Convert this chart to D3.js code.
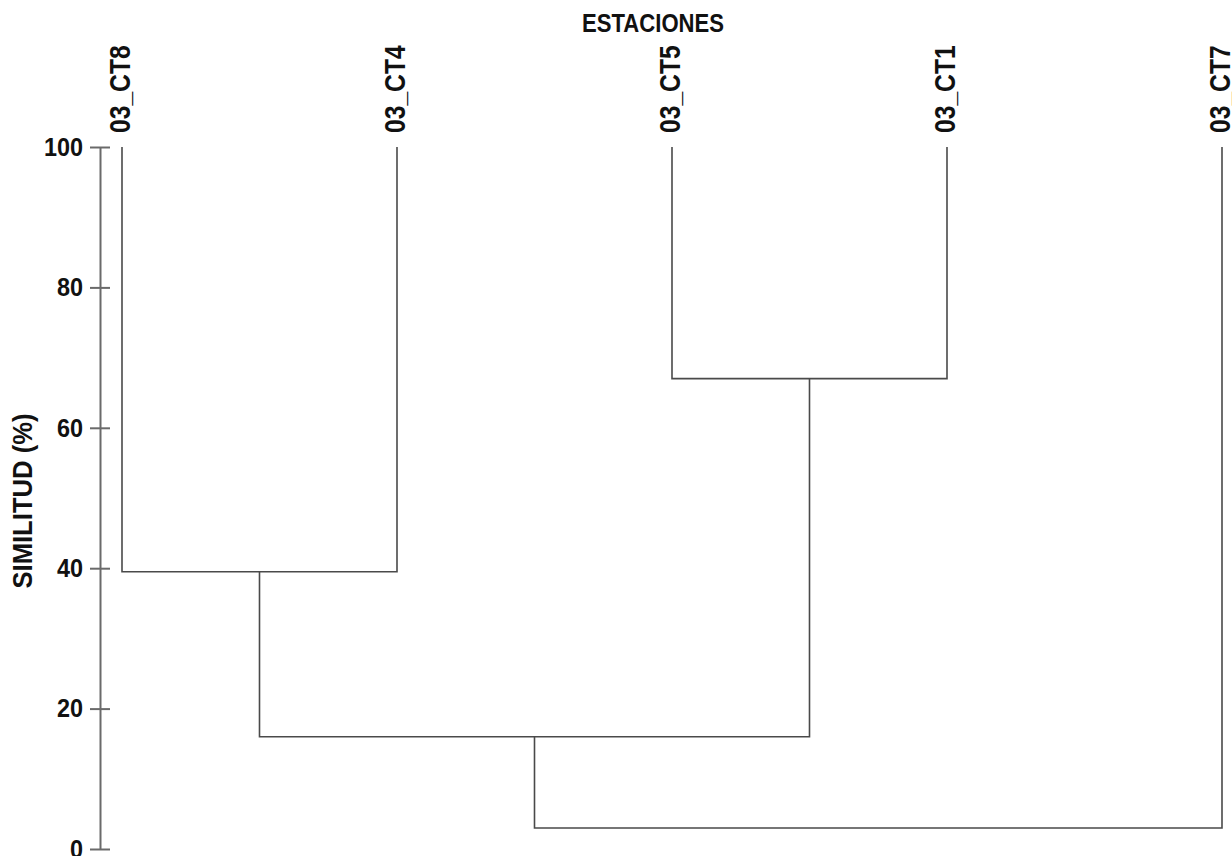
<!DOCTYPE html>
<html>
<head>
<meta charset="utf-8">
<title>dendrograma estaciones</title>
<script src="https://cdn.jsdelivr.net/npm/d3@7/dist/d3.min.js"></script>
<style>
    body {margin: 0; background: #fff;}
    text {font-family: "Liberation Sans", Arial, sans-serif; font-weight: bold; fill: #111;}
    .rama {stroke: #4a4a4a; stroke-width: 1.6; fill: none;}
    .eje path, .eje line {stroke: #6a6a6a; stroke-width: 2;}
</style>
</head>
<body>
<div id="container"></div>
<script>
    // estaciones en el orden del dendrograma
    const estaciones = ["03_CT8", "03_CT4", "03_CT5", "03_CT1", "03_CT7"];
    // uniones: [hijo a, hijo b, similitud %]; indices >= 5 son grupos previos
    const uniones = [
        [0, 1, 39.5],
        [2, 3, 67],
        [5, 6, 16],
        [7, 4, 3]
    ];
    const ticksY = [0, 20, 40, 60, 80, 100];

    const w = 1232;
    const h = 856;

    const svg = d3.select('#container')
        .append('svg')
        .attr('width', w)
        .attr('height', h);

    const x = d3.scalePoint().domain(estaciones).range([122, 1222]);
    const y = d3.scaleLinear().domain([0, 100]).range([849, 147]);

    // nodos: hojas a 100 %, luego cada union
    const nodos = estaciones.map(e => ({x: x(e), s: 100}));
    uniones.forEach(([a, b, s]) => {
        const na = nodos[a], nb = nodos[b];
        nodos.push({x: (na.x + nb.x) / 2, s: s, a: na, b: nb});
    });

    svg.append('g').selectAll('path')
        .data(nodos.filter(n => n.a))
        .join('path')
        .attr('class', 'rama')
        .attr('d', n => `M ${n.a.x} ${y(n.a.s)} V ${y(n.s)} H ${n.b.x} V ${y(n.b.s)}`);

    // eje Y
    const eje = svg.append('g')
        .attr('class', 'eje')
        .attr('transform', 'translate(100,0)')
        .call(d3.axisLeft(y).tickValues(ticksY).tickSizeInner(10).tickSizeOuter(0).tickPadding(7));
    eje.selectAll('.tick line').attr('x1', 10);
    eje.selectAll('.tick text')
        .attr('font-size', 26)
        .attr('x', null)
        .attr('transform', 'translate(-17,0) scale(0.9,1)')
        .style('font-family', null);

    svg.append('text')
        .attr('transform', 'translate(32,501) rotate(-90) scale(0.95,1)')
        .attr('text-anchor', 'middle')
        .attr('font-size', 27)
        .text('SIMILITUD (%)');

    svg.append('text')
        .attr('transform', 'translate(653,32) scale(0.85,1)')
        .attr('text-anchor', 'middle')
        .attr('font-size', 26)
        .text('ESTACIONES');

    svg.append('g').selectAll('text')
        .data(estaciones)
        .join('text')
        .attr('transform', d => `translate(${x(d) + 8},133) rotate(-90) scale(0.85,1)`)
        .attr('text-anchor', 'start')
        .attr('font-size', 29)
        .text(d => d);
</script>
</body>
</html>
